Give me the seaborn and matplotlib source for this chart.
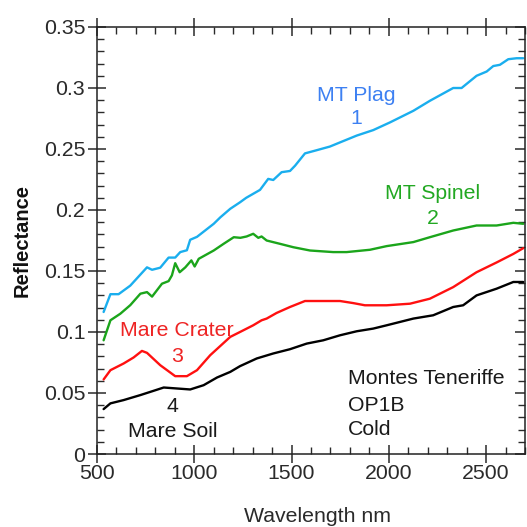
import numpy as np
import pandas as pd
import matplotlib
matplotlib.use("Agg")
import matplotlib.pyplot as plt
import seaborn as sns
from matplotlib.ticker import MultipleLocator

# ---------------- data ----------------
plag_wl = [534, 569, 611, 671, 757, 783, 825, 868, 902, 928, 962, 979, 1014, 1100, 1134, 1185,
           1235, 1267, 1338, 1380, 1406, 1449, 1492, 1518, 1569, 1629, 1697, 1749, 1835, 1920,
           2006, 2126, 2211, 2331, 2374, 2451, 2503, 2537, 2571, 2614, 2657, 2691]
plag_r = [0.1164, 0.131, 0.131, 0.138, 0.153, 0.151, 0.1527, 0.161, 0.161, 0.1655, 0.167, 0.1756,
          0.178, 0.1887, 0.194, 0.201, 0.2063, 0.210, 0.2165, 0.2255, 0.2246, 0.231, 0.232, 0.2363,
          0.2464, 0.249, 0.252, 0.2554, 0.261, 0.2655, 0.2718, 0.2813, 0.2895, 0.300, 0.300, 0.310,
          0.3135, 0.318, 0.319, 0.3236, 0.3244, 0.3244]

spinel_wl = [534, 569, 620, 671, 723, 757, 783, 834, 868, 885, 902, 925, 954, 985, 1002, 1023,
             1100, 1151, 1203, 1237, 1269, 1303, 1329, 1346, 1372, 1440, 1509, 1595, 1714, 1783,
             1903, 1989, 2126, 2211, 2331, 2451, 2554, 2640, 2691]
spinel_r = [0.0932, 0.1096, 0.115, 0.122, 0.1314, 0.1327, 0.129, 0.1396, 0.1417, 0.1464, 0.1564,
            0.149, 0.153, 0.1587, 0.1537, 0.160, 0.1668, 0.1723, 0.1777, 0.1772, 0.1783, 0.1805,
            0.1772, 0.1783, 0.175, 0.1723, 0.1695, 0.1668, 0.1655, 0.1655, 0.1674, 0.1704, 0.1737,
            0.1777, 0.1832, 0.1873, 0.1873, 0.1895, 0.1887]

crater_wl = [534, 569, 637, 688, 731, 757, 825, 902, 962, 1014, 1082, 1185, 1235, 1303, 1346,
             1372, 1423, 1492, 1569, 1663, 1749, 1817, 1877, 1989, 2109, 2211, 2331, 2451, 2554,
             2640, 2691]
crater_r = [0.0611, 0.0687, 0.0742, 0.0791, 0.0845, 0.0829, 0.0728, 0.0638, 0.0638, 0.0687, 0.081,
            0.096, 0.100, 0.1055, 0.1096, 0.111, 0.1156, 0.1205, 0.1254, 0.1254, 0.1254, 0.1237,
            0.1219, 0.1219, 0.1232, 0.1273, 0.1368, 0.149, 0.157, 0.164, 0.1687]

soil_wl = [534, 569, 637, 723, 791, 843, 911, 979, 1048, 1117, 1185, 1235, 1321, 1406, 1492,
           1578, 1663, 1749, 1835, 1920, 1989, 2126, 2228, 2331, 2382, 2451, 2554, 2640, 2691]
soil_r = [0.0368, 0.0415, 0.0442, 0.0483, 0.0518, 0.0545, 0.0537, 0.0529, 0.0564, 0.0627, 0.0673,
          0.072, 0.0783, 0.0824, 0.0859, 0.0905, 0.0932, 0.0973, 0.1006, 0.1028, 0.1055, 0.111,
          0.1137, 0.1205, 0.1219, 0.130, 0.1355, 0.141, 0.141]

series_names = ["MT Plag", "MT Spinel", "Mare Crater", "Mare Soil"]
line_colors = ["#1AAEEE", "#1BA51B", "#FF1010", "#000000"]

x_ticks = [500, 1000, 1500, 2000, 2500]
y_ticks = [0, 0.05, 0.1, 0.15, 0.2, 0.25, 0.3, 0.35]
y_tick_labels = ["0", "0.05", "0.1", "0.15", "0.2", "0.25", "0.3", "0.35"]

# ---------------- build long table ----------------
frames = []
for name, wl, r in zip(series_names,
                       [plag_wl, spinel_wl, crater_wl, soil_wl],
                       [plag_r, spinel_r, crater_r, soil_r]):
    frames.append(pd.DataFrame({"Wavelength": wl, "Reflectance": r, "Sample": name}))
df = pd.concat(frames, ignore_index=True)

# ---------------- plot ----------------
sns.set_theme(style="white")
plt.rcParams["font.family"] = ["Liberation Sans", "DejaVu Sans"]

fig = plt.figure(figsize=(5.27, 5.27), dpi=100)
ax = fig.add_axes([97 / 527, 1 - 454 / 527, 428 / 527, 427 / 527])

sns.lineplot(data=df, x="Wavelength", y="Reflectance", hue="Sample",
             palette=dict(zip(series_names, line_colors)), hue_order=series_names,
             linewidth=1.7, legend=False, ax=ax, estimator=None, sort=True)

ax.set_xlim(500, 2700)
ax.set_ylim(0, 0.35)
ax.set_xticks(x_ticks)
ax.set_yticks(y_ticks)
ax.set_yticklabels(y_tick_labels)
ax.xaxis.set_minor_locator(MultipleLocator(100))
ax.yaxis.set_minor_locator(MultipleLocator(0.01))

for sp in ax.spines.values():
    sp.set_color("#222222")
    sp.set_linewidth(1.1)
    sp.set_visible(True)

tc = "#2a2a2a"
ax.tick_params(axis="x", which="major", direction="inout", length=13, width=1.1,
               top=True, bottom=True, labelsize=15.3, colors=tc, pad=1)
ax.tick_params(axis="x", which="minor", direction="in", length=5, width=1.0,
               top=True, bottom=True, colors=tc)
ax.tick_params(axis="y", which="major", direction="inout", length=13, width=1.1,
               left=True, right=False, labelsize=15.3, colors=tc, pad=2)
ax.tick_params(axis="y", which="minor", direction="in", length=5, width=1.0,
               left=True, right=False, colors=tc)

sec = ax.secondary_yaxis("right")
sec.set_yticks(y_ticks)
sec.yaxis.set_minor_locator(MultipleLocator(0.01))
sec.tick_params(which="major", direction="in", length=7, width=1.1, labelright=False, colors=tc)
sec.tick_params(which="minor", direction="in", length=5, width=1.0, colors=tc)
sec.spines["right"].set_visible(False)

ax.set_xlabel("Wavelength nm", fontsize=15.3, color="#2a2a2a", va="top")
ax.xaxis.set_label_coords(0.516, -0.124)
ax.set_ylabel("Reflectance", fontsize=14.5, fontweight="bold", color="#111111", va="center")
ax.yaxis.set_label_coords(-0.175, 0.499)

fs = 15.3
ax.text(1831, 0.2936, "MT Plag", color="#3D80F2", fontsize=fs, ha="center", va="center")
ax.text(1831, 0.2748, "1", color="#3D80F2", fontsize=fs, ha="center", va="center")
ax.text(2225, 0.2137, "MT Spinel", color="#22A822", fontsize=fs, ha="center", va="center")
ax.text(2225, 0.1930, "2", color="#22A822", fontsize=fs, ha="center", va="center")
ax.text(910, 0.1014, "Mare Crater", color="#EE2424", fontsize=fs, ha="center", va="center")
ax.text(910, 0.0800, "3", color="#EE2424", fontsize=fs, ha="center", va="center")
ax.text(890, 0.0387, "4", color="#1a1a1a", fontsize=fs, ha="center", va="center")
ax.text(890, 0.0183, "Mare Soil", color="#1a1a1a", fontsize=fs, ha="center", va="center")
ax.text(1791, 0.0619, "Montes Teneriffe", color="#1a1a1a", fontsize=fs, ha="left", va="center")
ax.text(1791, 0.0400, "OP1B", color="#1a1a1a", fontsize=fs, ha="left", va="center")
ax.text(1791, 0.0202, "Cold", color="#1a1a1a", fontsize=fs, ha="left", va="center")

fig.savefig("out.png", dpi=100)
